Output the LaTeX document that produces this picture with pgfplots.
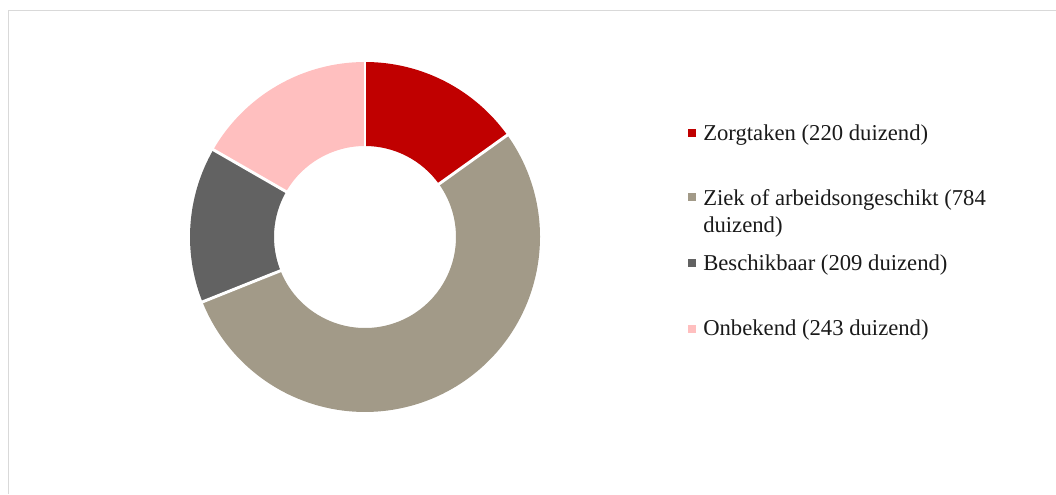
\documentclass[border=0pt]{standalone}
\usepackage{pgfplots}
\pgfplotsset{compat=1.18}
\usetikzlibrary{calc}
\usepackage{fontspec}
\setmainfont{Liberation Serif}
\definecolor{cZorg}{HTML}{C00000}
\definecolor{cZiek}{HTML}{A29A88}
\definecolor{cBesch}{HTML}{626262}
\definecolor{cOnb}{HTML}{FFBFBF}
\definecolor{cBorder}{HTML}{D9D9D9}
\definecolor{cText}{HTML}{1A1A1A}
\begin{document}
\begin{tikzpicture}
% data (duizend)
\def\vA{220}\def\vB{784}\def\vC{209}\def\vD{243}
\pgfmathsetmacro\tot{\vA+\vB+\vC+\vD}
\pgfmathsetmacro\aA{90}
\pgfmathsetmacro\aB{90-360*(\vA/\tot)}
\pgfmathsetmacro\aC{\aB-360*(\vB/\tot)}
\pgfmathsetmacro\aD{\aC-360*(\vC/\tot)}
\pgfmathsetmacro\aE{\aD-360*(\vD/\tot)}
\def\Ro{131.25pt}% 175 px
\def\Ri{68.25pt}% 91 px
\useasboundingbox (0,0) rectangle (792pt,370.5pt);
\begin{axis}[
  at={(0,0)}, anchor=south west,
  scale only axis, width=792pt, height=370.5pt,
  xmin=0, xmax=1056, ymin=0, ymax=494,
  hide axis, clip=false,
]
% border
\draw[cBorder, line width=1.1pt] (axis cs:8.5,0) -- (axis cs:8.5,483.5) -- (axis cs:1056,483.5);
% slices
\newcommand{\slice}[3]{%
  \fill[#3] ($(axis cs:365,257)+(#1:\Ro)$) arc[start angle=#1, end angle=#2, radius=\Ro]
    -- ($(axis cs:365,257)+(#2:\Ri)$) arc[start angle=#2, end angle=#1, radius=\Ri] -- cycle;}
\slice{\aA}{\aB}{cZorg}
\slice{\aB}{\aC}{cZiek}
\slice{\aC}{\aD}{cBesch}
\slice{\aD}{\aE}{cOnb}
% separators
\draw[white, line width=2.2pt] ($(axis cs:365,257)+(\aA:66pt)$) -- ($(axis cs:365,257)+(\aA:133pt)$);
\draw[white, line width=2.2pt] ($(axis cs:365,257)+(\aB:66pt)$) -- ($(axis cs:365,257)+(\aB:133pt)$);
\draw[white, line width=2.2pt] ($(axis cs:365,257)+(\aC:66pt)$) -- ($(axis cs:365,257)+(\aC:133pt)$);
\draw[white, line width=2.2pt] ($(axis cs:365,257)+(\aD:66pt)$) -- ($(axis cs:365,257)+(\aD:133pt)$);
% legend
\fill[cZorg] (axis cs:688,365) rectangle (axis cs:696,357);
\node[anchor=base west, inner sep=0pt, text=cText, font=\fontsize{17}{20}\selectfont] at (axis cs:703,353) {Zorgtaken (220 duizend)};
\fill[cZiek] (axis cs:688,300.5) rectangle (axis cs:696,292.5);
\node[anchor=base west, inner sep=0pt, text=cText, font=\fontsize{17}{20}\selectfont] at (axis cs:703,288.5) {Ziek of arbeidsongeschikt (784};
\node[anchor=base west, inner sep=0pt, text=cText, font=\fontsize{17}{20}\selectfont] at (axis cs:703,261.5) {duizend)};
\fill[cBesch] (axis cs:688,235) rectangle (axis cs:696,227);
\node[anchor=base west, inner sep=0pt, text=cText, font=\fontsize{17}{20}\selectfont] at (axis cs:703,223) {Beschikbaar (209 duizend)};
\fill[cOnb] (axis cs:688,169) rectangle (axis cs:696,161);
\node[anchor=base west, inner sep=0pt, text=cText, font=\fontsize{17}{20}\selectfont] at (axis cs:703,159) {Onbekend (243 duizend)};
\end{axis}
\end{tikzpicture}
\end{document}
